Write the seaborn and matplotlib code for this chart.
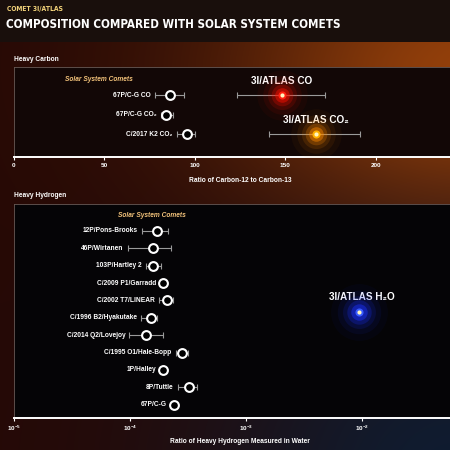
import numpy as np
import pandas as pd
import matplotlib
matplotlib.use("Agg")
import matplotlib.pyplot as plt
import matplotlib.font_manager as fm
import seaborn as sns

# Heavy carbon: 12C/13C ratios
carbon_labels = ['67P/C-G CO', '67P/C-G CO₂', 'C/2017 K2 CO₂']
carbon_val = [86, 84, 95.5]
carbon_lo = [78, 81, 90]
carbon_hi = [94, 88, 100]

atlas_c_labels = ['3I/ATLAS CO', '3I/ATLAS CO₂']
atlas_c_val = [148, 167]
atlas_c_lo = [123, 141]
atlas_c_hi = [172, 191]
atlas_c_row = [0, 2]

# Heavy hydrogen: D/H in water (units of 1e-4)
hydro_labels = ['12P/Pons-Brooks', '46P/Wirtanen', '103P/Hartley 2', 'C/2009 P1/Garradd',
                'C/2002 T7/LINEAR', 'C/1996 B2/Hyakutake', 'C/2014 Q2/Lovejoy',
                'C/1995 O1/Hale-Bopp', '1P/Halley', '8P/Tuttle', '67P/C-G']
hydro_val = [1.72, 1.59, 1.59, 1.92, 2.10, 1.51, 1.38, 2.83, 1.93, 3.26, 2.39]
hydro_lo = [1.26, 0.96, 1.37, 1.92, 1.79, 1.25, 0.99, 2.49, 1.93, 2.58, 2.39]
hydro_hi = [2.14, 2.26, 1.85, 1.92, 2.37, 1.70, 1.94, 3.19, 1.93, 3.80, 2.39]

atlas_h_label = '3I/ATLAS H₂O'
atlas_h_val = 95.0   # 1e-4 units
atlas_h_row = 4.66

FONT = ['Liberation Sans', 'DejaVu Sans']

sns.set_style("dark")
plt.rcParams['font.family'] = FONT
plt.rcParams['font.weight'] = 'bold'

# look for a condensed bold face for the headline
narrow = None
for f in fm.fontManager.ttflist:
    if f.weight in ('bold', 700) and f.style == 'normal' and (
            'Narrow' in f.name or 'Condensed' in f.name or
            f.stretch in ('condensed', 'semi-condensed', 'extra-condensed')):
        narrow = fm.FontProperties(fname=f.fname)
        break
if narrow is None:
    narrow = fm.FontProperties(family='DejaVu Sans', weight='bold')

fig = plt.figure(figsize=(4.5, 4.5), dpi=100)

# background gradient
H = W = 450
yy, xx = np.mgrid[0:H, 0:W].astype(float)
base = np.array([0.15, 0.035, 0.02])
orange = np.array([0.58, 0.25, 0.04])
blue = np.array([0.06, 0.11, 0.19])
w_or = np.exp(-((xx - 480) ** 2 / 250 ** 2 + (yy - 70) ** 2 / 150 ** 2))
w_bl = np.exp(-((xx - 460) ** 2 / 260 ** 2 + (yy - 470) ** 2 / 200 ** 2))
img = base[None, None, :] * (1 - w_or[..., None] - w_bl[..., None]).clip(0, 1) \
    + orange[None, None, :] * w_or[..., None] + blue[None, None, :] * w_bl[..., None]
img[:42] = np.array([0.10, 0.06, 0.05])
bg = fig.add_axes([0, 0, 1, 1])
bg.imshow(img.clip(0, 1), aspect='auto', extent=[0, 1, 0, 1], origin='upper')
bg.set_axis_off()


def fit_text(x, y, s, width_px, color, size):
    t = fig.text(x, y, s, color=color, fontproperties=narrow, fontsize=size, va='center')
    fig.canvas.draw()
    w = t.get_window_extent().width
    t.set_fontsize(size * width_px / w)
    return t


fit_text(7 / 450, 1 - 9 / 450, 'COMET 3I/ATLAS', 56, '#f2d27a', 7)
fit_text(6 / 450, 1 - 24 / 450, 'COMPOSITION COMPARED WITH SOLAR SYSTEM COMETS', 332, 'white', 13)
fig.text(14 / 450, 1 - 59 / 450, 'Heavy Carbon', color='white', fontsize=4.8, va='center')
fig.text(14 / 450, 1 - 196 / 450, 'Heavy Hydrogen', color='white', fontsize=4.8, va='center')


def style_panel(ax, face):
    ax.set_facecolor(face)
    ax.grid(False)
    for s in ['top', 'left']:
        ax.spines[s].set_visible(True)
        ax.spines[s].set_color('#6a5a55')
        ax.spines[s].set_linewidth(0.6)
    ax.spines['right'].set_visible(False)
    ax.spines['bottom'].set_visible(True)
    ax.spines['bottom'].set_color('white')
    ax.spines['bottom'].set_linewidth(1.4)
    ax.set_yticks([])
    ax.tick_params(axis='x', which='major', colors='white', labelsize=4.6, length=2.5, width=0.8,
                   direction='out', bottom=True, pad=1.5)
    ax.tick_params(axis='x', which='minor', bottom=False)
    ax.set_ylabel('')


def glow(ax, x, y, core, halo, big=1.0):
    for s, a in [(1200, 0.04), (700, 0.07), (400, 0.13), (220, 0.24), (100, 0.45)]:
        ax.scatter([x], [y], s=s * big, color=halo, alpha=a, linewidths=0, zorder=4)
    ax.scatter([x], [y], s=34, color=core, linewidths=0, zorder=5)
    ax.scatter([x], [y], s=9, color='#fff6c0', linewidths=0, zorder=6)


def comets(ax, df, no_bar_off):
    ax.errorbar(df['val'], df['row'], xerr=[df['val'] - df['lo'], df['hi'] - df['val']],
                fmt='none', ecolor='#9a9a9a', elinewidth=0.8, capsize=2.3, capthick=0.8, zorder=2)
    sns.scatterplot(data=df, x='val', y='row', ax=ax, s=40, color='black', edgecolor='white',
                    linewidth=1.5, zorder=3, legend=False)
    for _, r in df.iterrows():
        has_bar = r['hi'] > r['lo']
        anchor = r['lo'] if has_bar else r['val']
        off = -3 if has_bar else no_bar_off
        ax.annotate(r['label'], (anchor, r['row']), xytext=(off, 0), textcoords='offset points',
                    ha='right', va='center', color='white', fontsize=4.8, fontweight='bold')


# top panel: carbon
ax1 = fig.add_axes([14 / 450, 1 - 157 / 450, 1 - 14 / 450, 90 / 450])
carbon = pd.DataFrame({'label': carbon_labels, 'val': carbon_val, 'lo': carbon_lo,
                       'hi': carbon_hi, 'row': range(len(carbon_labels))})
comets(ax1, carbon, -5)
ax1.errorbar(atlas_c_val, atlas_c_row,
             xerr=[np.subtract(atlas_c_val, atlas_c_lo), np.subtract(atlas_c_hi, atlas_c_val)],
             fmt='none', ecolor='#9a9a9a', elinewidth=0.8, capsize=2.5, capthick=0.8, zorder=2)
glow(ax1, atlas_c_val[0], atlas_c_row[0], '#ff2010', '#ff1000', big=1.1)
glow(ax1, atlas_c_val[1], atlas_c_row[1], '#ffb000', '#ff8a00', big=1.1)
for lab, v, r in zip(atlas_c_labels, atlas_c_val, atlas_c_row):
    ax1.text(v, r - 0.72, lab, color='white', fontsize=7.2, fontweight='bold', ha='center', va='center')
ax1.text(47, -0.82, 'Solar System Comets', color='#f2c27a', fontsize=4.8, fontstyle='italic',
         fontweight='bold', ha='center', va='center')
ax1.set_xlim(0, 241)
ax1.set_ylim(3.18, -1.44)
ax1.set_xticks([0, 50, 100, 150, 200])
style_panel(ax1, '#120706')
ax1.set_xlabel('Ratio of Carbon-12 to Carbon-13', color='white', fontsize=4.8, fontweight='bold')
ax1.xaxis.set_label_coords((240 - 14) / 436, -0.22)

# bottom panel: hydrogen
ax2 = fig.add_axes([14 / 450, 1 - 418 / 450, 1 - 14 / 450, 214 / 450])
hydro = pd.DataFrame({'label': hydro_labels, 'val': np.array(hydro_val) * 1e-4,
                      'lo': np.array(hydro_lo) * 1e-4, 'hi': np.array(hydro_hi) * 1e-4,
                      'row': range(len(hydro_labels))})
ax2.set_xscale('log')
comets(ax2, hydro, -5)
glow(ax2, atlas_h_val * 1e-4, atlas_h_row, '#3a5cff', '#1a30ff', big=1.4)
ax2.text(atlas_h_val * 1e-4 * 1.05, atlas_h_row - 0.85, atlas_h_label, color='white', fontsize=7.2,
         fontweight='bold', ha='center', va='center')
ax2.text(1.55e-4, -0.88, 'Solar System Comets', color='#f2c27a', fontsize=4.8, fontstyle='italic',
         fontweight='bold', ha='center', va='center')
ax2.set_xlim(1e-5, 10 ** -1.238)
ax2.set_ylim(10.77, -1.55)
ax2.set_xticks([1e-5, 1e-4, 1e-3, 1e-2])
style_panel(ax2, '#050406')
ax2.set_xlabel('Ratio of Heavy Hydrogen Measured in Water', color='white', fontsize=4.8,
               fontweight='bold')
ax2.xaxis.set_label_coords((240 - 14) / 436, -0.095)

fig.savefig('out.png', dpi=100, facecolor='black')
